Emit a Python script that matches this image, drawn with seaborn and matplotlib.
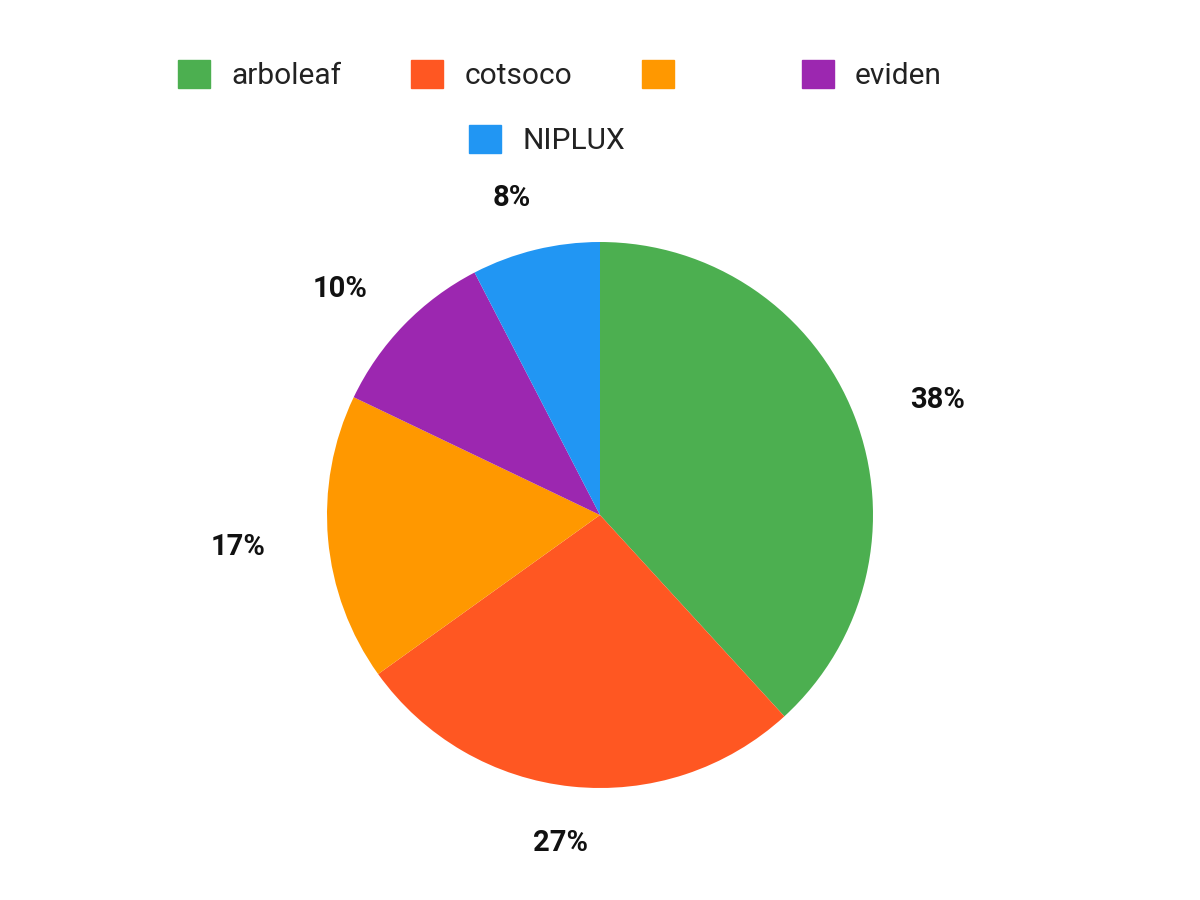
import numpy as np
import matplotlib
matplotlib.use("Agg")
import matplotlib.pyplot as plt
import matplotlib.patches as mpatches
import seaborn as sns

brands = ["arboleaf", "cotsoco", "", "eviden", "NIPLUX"]
shares = [38.2, 26.9, 17.0, 10.3, 7.6]
colors = ["#4CAF50", "#FF5722", "#FF9800", "#9C27B0", "#2196F3"]

sns.set_theme(style="white")
plt.rcParams['font.family'] = ['Roboto', 'DejaVu Sans']
palette = sns.color_palette(colors)

fig = plt.figure(figsize=(12, 9), dpi=100)
fig.patch.set_facecolor("white")

# pie centred at (600, 515) px, radius ~273 px
R = 273
ax = fig.add_axes([(600 - R) / 1200, (900 - 515 - R) / 900, 2 * R / 1200, 2 * R / 900])
wedges, texts, autotexts = ax.pie(
    shares, colors=palette, startangle=90, counterclock=False,
    autopct=lambda p: f"{p:.0f}%", pctdistance=1.26,
    wedgeprops=dict(linewidth=0),
    textprops=dict(fontsize=21, fontweight="bold", color="#111111"),
)
# label placement outside the pie: distance and small angle nudge (deg, clockwise)
label_dist = [1.31, 1.20, 1.33, 1.27, 1.215]
label_nudge = [1.9, 1.0, 0.5, -2.7, -1.7]
for w, t, d, n in zip(wedges, autotexts, label_dist, label_nudge):
    mid = np.deg2rad((w.theta1 + w.theta2) / 2 - n)
    t.set_position((d * np.cos(mid), d * np.sin(mid)))
    t.set_va("center_baseline")

ax.set_xlim(-1, 1)
ax.set_ylim(-1, 1)
ax.set_aspect("equal")
ax.axis("off")

# legend: first row of four, NIPLUX on its own row
handles = [mpatches.Patch(color=c, label=(b if b else "     ")) for b, c in zip(brands, palette)]
leg_kw = dict(frameon=False, fontsize=21.5, handlelength=1.07, handleheight=1.07,
              handletextpad=0.7, labelcolor="#222222")
fig.legend(handles=handles[:4], ncol=4, loc="center",
           bbox_to_anchor=(560 / 1200, 1 - 75 / 900), columnspacing=2.35, **leg_kw)
fig.legend(handles=handles[4:], ncol=1, loc="center",
           bbox_to_anchor=(547 / 1200, 1 - 140 / 900), **leg_kw)

fig.savefig("out.png", dpi=100, facecolor="white")
